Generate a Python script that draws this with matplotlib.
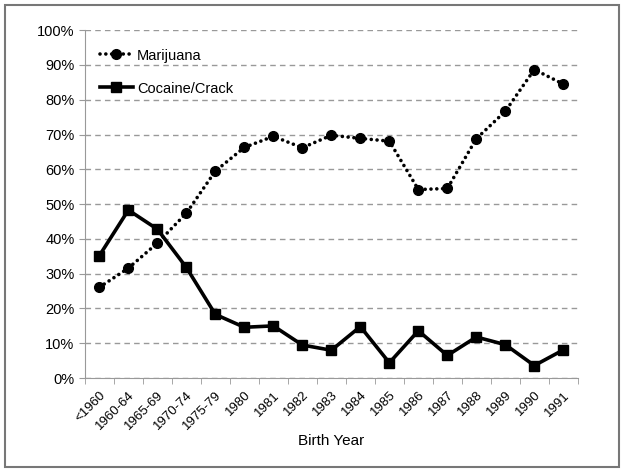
import numpy as np
import matplotlib.pyplot as plt
from matplotlib.patches import Rectangle

plt.rcParams['font.family'] = ['Liberation Sans', 'DejaVu Sans']

years = ['<1960', '1960-64', '1965-69', '1970-74', '1975-79', '1980', '1981',
         '1982', '1983', '1984', '1985', '1986', '1987', '1988', '1989',
         '1990', '1991']
marijuana = [26.1, 31.6, 38.8, 47.4, 59.5, 66.3, 69.5, 66.2, 69.8, 68.9,
             68.1, 54.2, 54.5, 68.8, 76.7, 88.7, 84.5]
cocaine = [35.2, 48.3, 42.8, 31.8, 18.3, 14.6, 15.0, 9.5, 8.0, 14.8,
           4.4, 13.6, 6.5, 11.8, 9.6, 3.6, 8.1]

fig = plt.figure(figsize=(6.24, 4.72), dpi=100)
ax = fig.add_axes([0.136, 0.199, 0.790, 0.737])

x = np.arange(len(years))
ax.plot(x, marijuana, linestyle=(0, (0.01, 1.6)), linewidth=2.6, color='black',
        marker='o', markersize=7, label='Marijuana', dash_capstyle='round')
ax.plot(x, cocaine, linestyle='-', linewidth=2.6, color='black',
        marker='s', markersize=6.5, label='Cocaine/Crack')

ax.set_xlim(-0.5, len(years) - 0.5)
ax.set_ylim(0, 100)
ax.set_yticks(np.arange(0, 101, 10))
ax.set_yticklabels(['%d%%' % v for v in range(0, 101, 10)], fontsize=10.5)
ax.yaxis.grid(True, linestyle=(0, (4, 3)), color='#999999', linewidth=1)
ax.set_axisbelow(True)

ax.set_xticks(x)
ax.set_xticklabels(years, rotation=45, ha='right', rotation_mode='anchor',
                   fontsize=9.5)
ax.tick_params(axis='x', length=0, pad=8)
ax.set_xticks(np.arange(-0.5, len(years) + 0.5, 1), minor=True)
ax.tick_params(axis='x', which='minor', length=4, color='#999999', direction='out')
ax.tick_params(axis='y', length=4, color='#999999', direction='out')

for s in ['top', 'right']:
    ax.spines[s].set_visible(False)
for s in ['left', 'bottom']:
    ax.spines[s].set_color('#999999')

ax.set_xlabel('Birth Year', fontsize=11, labelpad=1)

leg = ax.legend(loc='upper left', frameon=False, fontsize=10.5,
                labelspacing=1.3, handlelength=2.2, handletextpad=0.3,
                bbox_to_anchor=(0.005, 0.985))

fig.patches.append(Rectangle((0.008, 0.01), 0.984, 0.98, transform=fig.transFigure,
                             fill=False, edgecolor='#777777', linewidth=1.5))

fig.savefig('out.png', dpi=100)
